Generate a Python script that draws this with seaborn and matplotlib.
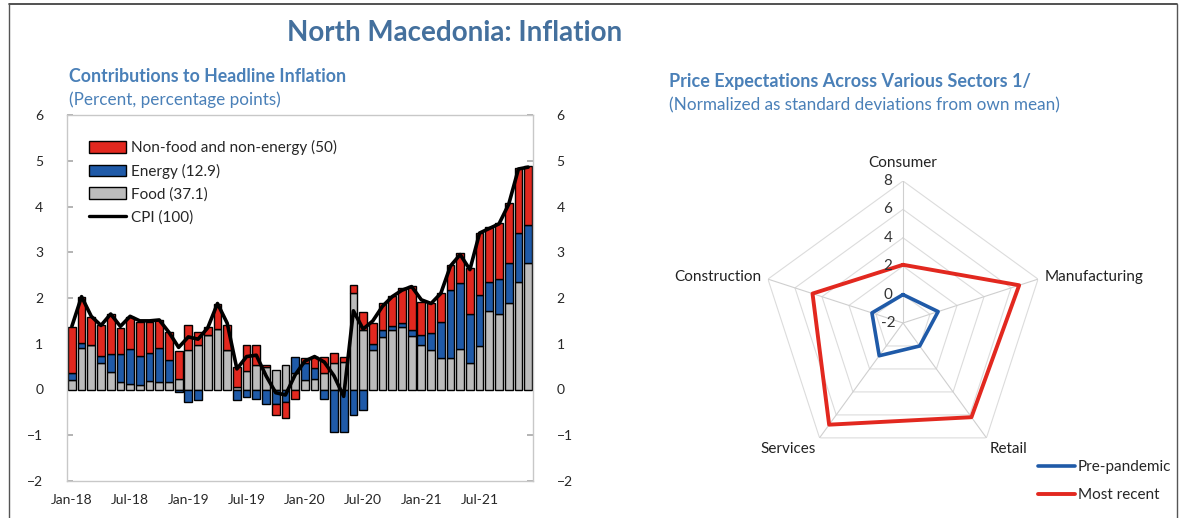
import numpy as np
import matplotlib
matplotlib.use("Agg")
import matplotlib.pyplot as plt
import matplotlib.transforms as mtransforms
from matplotlib.lines import Line2D
from matplotlib.patches import Patch
import seaborn as sns

# --- data: contributions to headline inflation (pp), Jan-18 .. Dec-21
food = [0.20, 0.90, 0.97, 0.59, 0.39, 0.17, 0.11, 0.10, 0.19, 0.17, 0.17, 0.22,
        0.86, 0.97, 1.20, 1.32, 0.86, 0.06, 0.40, 0.53, 0.50, 0.42, 0.53, 0.35,
        0.20, 0.24, 0.35, 0.58, 0.60, 2.10, 1.30, 0.86, 1.15, 1.30, 1.37, 1.18,
        0.97, 0.86, 0.68, 0.68, 0.88, 0.57, 0.95, 1.72, 1.66, 1.88, 2.36, 2.76]
energy = [0.15, 0.12, 0.00, 0.14, 0.38, 0.60, 0.77, 0.64, 0.60, 0.73, 0.47, -0.05,
          -0.27, -0.24, 0.00, 0.00, 0.00, -0.22, -0.17, -0.20, -0.32, -0.32, -0.27, 0.35,
          0.37, 0.22, -0.20, -0.93, -0.93, -0.56, -0.45, 0.13, 0.15, 0.08, 0.08, 0.13,
          0.22, 0.37, 0.80, 1.50, 1.44, 1.09, 1.12, 0.64, 0.75, 0.88, 1.06, 0.84]
nfne = [1.02, 1.01, 0.62, 0.68, 0.89, 0.58, 0.71, 0.74, 0.69, 0.62, 0.62, 0.62,
        0.55, 0.29, 0.17, 0.55, 0.55, 0.44, 0.57, 0.44, 0.04, -0.24, -0.35, -0.20,
        0.11, 0.24, 0.35, 0.21, 0.10, 0.18, 0.40, 0.46, 0.58, 0.67, 0.77, 0.95,
        0.73, 0.65, 0.62, 0.54, 0.66, 0.99, 1.36, 1.19, 1.24, 1.31, 1.42, 1.28]
cpi = [1.38, 2.03, 1.60, 1.40, 1.65, 1.38, 1.60, 1.50, 1.50, 1.52, 1.25, 0.92,
       1.15, 1.10, 1.35, 1.88, 1.45, 0.45, 0.72, 0.75, 0.30, -0.07, -0.12, 0.32,
       0.62, 0.72, 0.60, 0.30, -0.15, 1.72, 1.32, 1.50, 1.82, 2.03, 2.17, 2.25,
       1.96, 1.88, 2.10, 2.70, 2.95, 2.62, 3.42, 3.52, 3.62, 4.05, 4.82, 4.86]
tick_pos = [0, 6, 12, 18, 24, 30, 36, 42]
tick_labels = ["Jan-18", "Jul-18", "Jan-19", "Jul-19", "Jan-20", "Jul-20", "Jan-21", "Jul-21"]

# --- data: price expectations (std devs from own mean)
sectors = ["Consumer", "Manufacturing", "Retail", "Services", "Construction"]
pre_pandemic = [0.0, 0.6, 0.0, 0.85, 0.3]
most_recent = [2.1, 6.6, 6.2, 6.85, 4.7]

RED = "#e2281f"
BLUE = "#1f5aa8"
GRAY = "#bcbcbc"
TITLE = "#44709d"
SUB = "#4a80b8"

sns.set_theme(style="white")
plt.rcParams["font.family"] = ["Lato", "DejaVu Sans"]

fig = plt.figure(figsize=(11.84, 5.18), dpi=100)

# ---------------- left: stacked bars ----------------
ax = fig.add_axes([67 / 1184, 1 - 481 / 518, 466 / 1184, 366 / 518])
x = np.arange(len(food))
pos_bot = np.zeros(len(food))
neg_bot = np.zeros(len(food))
for vals, col in [(food, GRAY), (energy, BLUE), (nfne, RED)]:
    v = np.array(vals)
    bot = np.where(v >= 0, pos_bot, neg_bot)
    ax.bar(x, v, bottom=bot, width=0.8, color=col, edgecolor="black", linewidth=1.0, zorder=2)
    pos_bot += np.clip(v, 0, None)
    neg_bot += np.clip(v, None, 0)
sns.lineplot(x=x, y=cpi, ax=ax, color="black", linewidth=2.6, zorder=3,
             solid_joinstyle="round")

ax.set_xlim(-0.5, 47.5)
ax.set_ylim(-2, 6)
ax.set_yticks(range(-2, 7))
ax.set_xticks(tick_pos)
ax.set_xticklabels(tick_labels)
ax.tick_params(axis="y", direction="in", length=4, color="#aaaaaa", labelsize=10,
               left=True, right=True, labelleft=True, labelright=True, pad=17)
ax.tick_params(axis="x", length=0, labelsize=10, pad=9)
for s in ax.spines.values():
    s.set_color("#c8c8c8")
    s.set_linewidth(1.0)
ax.set_xlabel("")
ax.set_ylabel("")

handles = [Patch(facecolor=RED, edgecolor="black", linewidth=1.0),
           Patch(facecolor=BLUE, edgecolor="black", linewidth=1.0),
           Patch(facecolor=GRAY, edgecolor="black", linewidth=1.0),
           Line2D([], [], color="black", linewidth=2.4)]
labels = ["Non-food and non-energy (50)", "Energy (12.9)", "Food (37.1)", "CPI (100)"]
ax.legend(handles, labels, loc="upper left", bbox_to_anchor=(0.048, 0.931), frameon=False,
          fontsize=11, handlelength=2.4, handleheight=0.8, handletextpad=0.3,
          labelspacing=0.55, borderaxespad=0, borderpad=0)

# ---------------- right: radar ----------------
cx, cy, R = 903, 323, 142
ax2 = fig.add_axes([(cx - R) / 1184, 1 - (cy + R) / 518, 2 * R / 1184, 2 * R / 518],
                   projection="polar")
ax2.set_theta_offset(np.pi / 2)
ax2.set_theta_direction(-1)
ax2.set_ylim(-2, 8)
ax2.grid(False)
ax2.spines["polar"].set_visible(False)
ax2.set_xticks([])
ax2.set_yticks([])
ax2.set_facecolor("none")

ang = np.linspace(0, 2 * np.pi, len(sectors), endpoint=False)
ang_c = np.append(ang, ang[0])
for r in [0, 2, 4, 6, 8]:
    ax2.plot(ang_c, [r] * len(ang_c), color="#dcdcdc", linewidth=0.8, zorder=1)
for a in ang:
    ax2.plot([a, a], [-2, 8], color="#cfcfcf", linewidth=0.8, zorder=1)

ax2.plot(ang_c, pre_pandemic + pre_pandemic[:1], color=BLUE, linewidth=2.6, zorder=3)
ax2.plot(ang_c, most_recent + most_recent[:1], color=RED, linewidth=2.8, zorder=3)

off = mtransforms.offset_copy(ax2.transData, fig=fig, x=-15, y=0, units="dots")
for r in [-2, 0, 2, 4, 6, 8]:
    ax2.text(0, r, str(r), transform=off, ha="center", va="center", fontsize=11,
             color="#333333")

lab_cfg = [(9.3, "center", "center"), (8.5, "left", "center"),
           (8.4, "left", "top"), (8.4, "right", "top"),
           (8.5, "right", "center")]
for a, name, (r, ha, va) in zip(ang, sectors, lab_cfg):
    ax2.text(a, r, name, ha=ha, va=va, fontsize=11, color="#222222")

leg_h = [Line2D([], [], color=BLUE, linewidth=2.6), Line2D([], [], color=RED, linewidth=2.8)]
fig.legend(leg_h, ["Pre-pandemic", "Most recent"], loc="center left",
           bbox_to_anchor=(1038 / 1184, 1 - 481 / 518), frameon=False, fontsize=11,
           handlelength=2.4, handletextpad=0.2, labelspacing=0.9, borderpad=0,
           borderaxespad=0)

# ---------------- titles ----------------
fig.text(455 / 1184, 1 - 33 / 518, "North Macedonia: Inflation", ha="center", va="center",
         fontsize=20, fontweight="bold", color=TITLE)
fig.text(69 / 1184, 1 - 76 / 518, "Contributions to Headline Inflation", ha="left",
         va="center", fontsize=12.8, fontweight="bold", color=SUB)
fig.text(69 / 1184, 1 - 100 / 518, "(Percent, percentage points)", ha="left",
         va="center", fontsize=12.3, color=SUB)
fig.text(669 / 1184, 1 - 82 / 518, "Price Expectations Across Various Sectors 1/", ha="left",
         va="center", fontsize=13, fontweight="bold", color=SUB)
fig.text(669 / 1184, 1 - 105 / 518, "(Normalized as standard deviations from own mean)",
         ha="left", va="center", fontsize=12.3, color=SUB)

# frame around the figure panel
fig.add_artist(Line2D([9 / 1184, 1177 / 1184], [1 - 4 / 518, 1 - 4 / 518],
                      transform=fig.transFigure, color="#333333", linewidth=1.2))
fig.add_artist(Line2D([9 / 1184, 9 / 1184], [0, 1 - 4 / 518],
                      transform=fig.transFigure, color="#555555", linewidth=1.0))
fig.add_artist(Line2D([1177 / 1184, 1177 / 1184], [0, 1 - 4 / 518],
                      transform=fig.transFigure, color="#555555", linewidth=1.0))

fig.savefig("out.png", dpi=100)
